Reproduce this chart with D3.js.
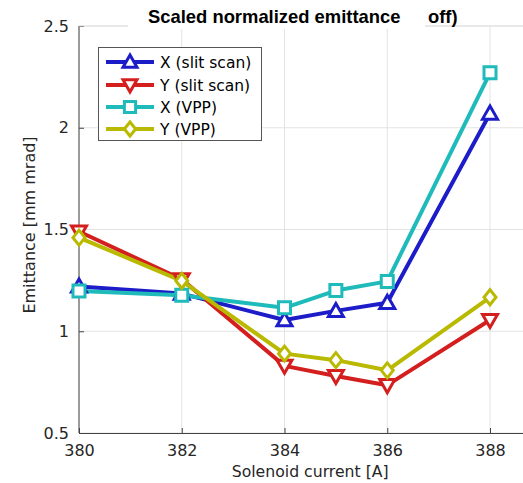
<!DOCTYPE html>
<html><head><meta charset="utf-8">
<script src="https://cdn.jsdelivr.net/npm/d3@7"></script>
<style>body{margin:0;background:#fff}svg{display:block}</style>
</head><body>
<script>
const currents = [380, 382, 384, 385, 386, 388];
const xSlit = [1.22, 1.185, 1.055, 1.10, 1.14, 2.07];
const ySlit = [1.49, 1.255, 0.83, 0.78, 0.735, 1.055];
const xVPP = [1.198, 1.177, 1.115, 1.20, 1.245, 2.27];
const yVPP = [1.46, 1.248, 0.89, 0.858, 0.808, 1.167];
const seriesNames = ["X (slit scan)", "Y (slit scan)", "X (VPP)", "Y (VPP)"];
const seriesColors = ["#1c1cc8", "#d41f1f", "#1fbaba", "#b9b900"];
const seriesMarkers = ["up", "down", "square", "diamond"];
const xTicks = [380, 382, 384, 386, 388];
const yTicks = [0.5, 1, 1.5, 2, 2.5];

const W = 523, H = 483;
const svg = d3.select("body").append("svg").attr("width", W).attr("height", H);
const L = 79, T = 26, B = 433;
const x = d3.scaleLinear().domain([380, 389]).range([L, L + 9 * 51.375]);
const y = d3.scaleLinear().domain([0.5, 2.5]).range([B, T]);
const font = "DejaVu Sans, sans-serif";
const axCol = "#444";

// grid
svg.append("g").selectAll("line").data(xTicks).join("line")
  .attr("x1", d => x(d)).attr("x2", d => x(d)).attr("y1", T).attr("y2", B)
  .attr("stroke", "#e3e3e3").attr("stroke-width", 1);
svg.append("g").selectAll("line").data(yTicks).join("line")
  .attr("x1", L).attr("x2", W).attr("y1", d => y(d)).attr("y2", d => y(d))
  .attr("stroke", "#e3e3e3").attr("stroke-width", 1);

// axes
const xAxis = d3.axisBottom(x).tickValues(xTicks).tickSize(-5).tickPadding(12).tickFormat(d3.format("d"));
const gx = svg.append("g").attr("transform", `translate(0,${B})`).call(xAxis);
gx.select(".domain").attr("stroke", axCol);
gx.selectAll(".tick line").attr("stroke", axCol);
gx.selectAll("text").attr("font-family", font).attr("font-size", 16).attr("fill", "#262626");
const yAxis = d3.axisLeft(y).tickValues(yTicks).tickSize(-5).tickPadding(10).tickFormat(d => d);
const gy = svg.append("g").attr("transform", `translate(${L},0)`).call(yAxis);
gy.select(".domain").attr("stroke", axCol).attr("d", `M0,${B}V${T}`);
gy.selectAll(".tick line").attr("stroke", axCol);
gy.selectAll("text").attr("font-family", font).attr("font-size", 16).attr("fill", "#262626");

// top border (light)
svg.append("line").attr("x1", L).attr("x2", W).attr("y1", T).attr("y2", T).attr("stroke", "#e0e0e0");

function markerPath(type, s) {
  const r = s / 2;
  if (type === "up") return `M0,${-r}L${r},${r * 0.75}L${-r},${r * 0.75}Z`;
  if (type === "down") return `M0,${r}L${r},${-r * 0.75}L${-r},${-r * 0.75}Z`;
  if (type === "square") { const q = r * 0.8; return `M${-q},${-q}H${q}V${q}H${-q}Z`; }
  return `M0,${-r}L${r * 0.8},0L0,${r}L${-r * 0.8},0Z`;
}

const allSeries = [xSlit, ySlit, xVPP, yVPP];
const line = d3.line().x((d, i) => x(currents[i])).y(d => y(d));
const plot = svg.append("g");
allSeries.forEach((vals, k) => {
  plot.append("path").attr("d", line(vals)).attr("fill", "none")
    .attr("stroke", seriesColors[k]).attr("stroke-width", 4).attr("stroke-linejoin", "round");
});
allSeries.forEach((vals, k) => {
  plot.append("g").selectAll("path").data(vals).join("path")
    .attr("transform", (d, i) => `translate(${x(currents[i])},${y(d)})`)
    .attr("d", markerPath(seriesMarkers[k], 15))
    .attr("fill", "#fff").attr("stroke", seriesColors[k]).attr("stroke-width", 3).attr("stroke-linejoin", "miter");
});

// legend
const lg = svg.append("g");
lg.append("rect").attr("x", 98.5).attr("y", 47.5).attr("width", 163).attr("height", 93)
  .attr("fill", "#fff").attr("stroke", "#555").attr("stroke-width", 1);
const rowY = [62, 85, 107, 129];
seriesNames.forEach((nm, k) => {
  lg.append("line").attr("x1", 106).attr("x2", 154).attr("y1", rowY[k]).attr("y2", rowY[k])
    .attr("stroke", seriesColors[k]).attr("stroke-width", 4);
  lg.append("path").attr("transform", `translate(130,${rowY[k]})`).attr("d", markerPath(seriesMarkers[k], 14))
    .attr("fill", "#fff").attr("stroke", seriesColors[k]).attr("stroke-width", 3);
  lg.append("text").attr("x", 160).attr("y", rowY[k]).attr("dy", "0.36em")
    .attr("font-family", font).attr("font-size", 15.5).attr("fill", "#000").text(nm);
});

// title with white box
svg.append("rect").attr("x", 128).attr("y", 0).attr("width", 297).attr("height", 29).attr("fill", "#fff");
svg.append("text").attr("x", 148).attr("y", 23).attr("font-family", "Liberation Sans, Arial, sans-serif")
  .attr("font-weight", "bold").attr("font-size", 18.4).attr("fill", "#000").text("Scaled normalized emittance");
svg.append("text").attr("x", 428).attr("y", 23).attr("font-family", "Liberation Sans, Arial, sans-serif")
  .attr("font-weight", "bold").attr("font-size", 18.4).attr("fill", "#000").text("off)");

// axis labels
svg.append("text").attr("x", x(384.5)).attr("y", 477).attr("text-anchor", "middle")
  .attr("font-family", font).attr("font-size", 15.7).attr("fill", "#262626").text("Solenoid current [A]");
svg.append("text").attr("transform", `translate(35,225) rotate(-90)`).attr("text-anchor", "middle")
  .attr("font-family", font).attr("font-size", 16).attr("fill", "#262626").text("Emittance [mm mrad]");
</script>
</body></html>
